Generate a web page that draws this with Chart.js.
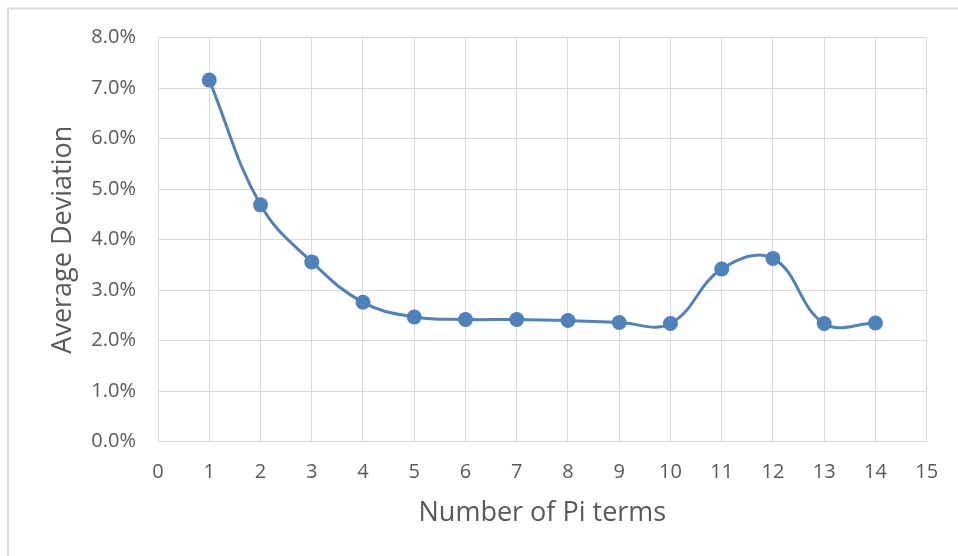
<!DOCTYPE html>
<html>
<head>
<meta charset="utf-8">
<script src="https://cdn.jsdelivr.net/npm/chart.js@4"></script>
<style>
  html, body { margin: 0; padding: 0; background: #ffffff; }
  #wrap { width: 958px; height: 556px; }
</style>
</head>
<body>
<div id="wrap"><canvas id="c" width="958" height="556"></canvas></div>
<script>
// Number of Pi terms vs. average deviation (in percent)
const piTerms = [1, 2, 3, 4, 5, 6, 7, 8, 9, 10, 11, 12, 13, 14];
const avgDeviation = [7.16, 4.69, 3.56, 2.76, 2.47, 2.42, 2.42, 2.40, 2.36, 2.34, 3.42, 3.63, 2.34, 2.35];
const xTitle = 'Number of Pi terms';
const yTitle = 'Average Deviation';

const points = piTerms.map((x, i) => ({ x: x, y: avgDeviation[i] }));

const textColor = '#595959';
const gridColor = '#d9d9d9';
const seriesColor = '#4f81bd';

// thin frame along the top and left edges of the chart
const framePlugin = {
  id: 'frame',
  beforeDraw(chart) {
    const ctx = chart.ctx;
    ctx.save();
    ctx.fillStyle = '#ffffff';
    ctx.fillRect(0, 0, chart.width, chart.height);
    ctx.strokeStyle = '#d9d9d9';
    ctx.lineWidth = 2;
    ctx.beginPath();
    ctx.moveTo(958, 8.5);
    ctx.lineTo(8, 8.5);
    ctx.lineTo(8, 556);
    ctx.stroke();
    ctx.restore();
  }
};

new Chart(document.getElementById('c'), {
  type: 'scatter',
  data: {
    datasets: [{
      data: points,
      showLine: true,
      borderColor: seriesColor,
      backgroundColor: seriesColor,
      borderWidth: 3,
      tension: 0.4,
      pointRadius: 7.5,
      pointHoverRadius: 7.5,
      pointBorderWidth: 0
    }]
  },
  options: {
    responsive: false,
    animation: false,
    events: [],
    layout: { padding: { top: 37.7, right: 31.3, left: 0, bottom: 0 } },
    plugins: {
      legend: { display: false },
      tooltip: { enabled: false }
    },
    scales: {
      x: {
        type: 'linear',
        min: 0,
        max: 15,
        ticks: {
          stepSize: 1,
          padding: 19,
          color: textColor,
          font: { family: 'Open Sans', size: 20 }
        },
        grid: { color: gridColor, drawTicks: false, lineWidth: 1 },
        border: { color: gridColor, width: 1 },
        title: {
          display: true,
          text: xTitle,
          color: textColor,
          font: { family: 'Open Sans', size: 27 },
          padding: { top: 0, bottom: 26.8 }
        },
        afterFit(scale) { scale.height = 114.3; }
      },
      y: {
        min: 0,
        max: 8,
        ticks: {
          stepSize: 1,
          padding: 22,
          color: textColor,
          font: { family: 'Open Sans', size: 20 },
          callback: (v) => v.toFixed(1) + '%'
        },
        grid: { color: gridColor, drawTicks: false, lineWidth: 1 },
        border: { color: gridColor, width: 1 },
        title: {
          display: true,
          text: yTitle,
          color: textColor,
          font: { family: 'Open Sans', size: 27 },
          padding: { top: 46.8, bottom: 0 }
        },
        afterFit(scale) { scale.width = 158; }
      }
    }
  },
  plugins: [framePlugin]
});
</script>
</body>
</html>
